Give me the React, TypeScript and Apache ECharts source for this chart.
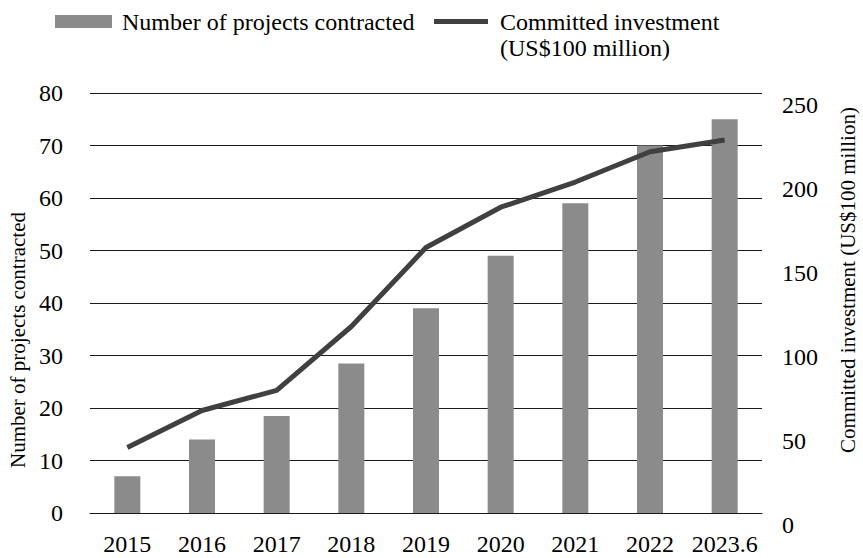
import React, { useEffect, useRef } from "react";
import * as echarts from "echarts";

const categories = ["2015", "2016", "2017", "2018", "2019", "2020", "2021", "2022", "2023.6"];
const projectsContracted = [7, 14, 18.5, 28.5, 39, 49, 59, 70, 75];
const committedInvestment = [39, 61, 73, 111, 158, 182, 197, 215, 222];
const leftTicks = { min: 0, max: 80, interval: 10 };
const rightTicks = { min: 0, max: 250, interval: 50 };

const barName = "Number of projects contracted";
const lineName = "Committed investment (US$100 million)";
const lineLegend = "Committed investment\n(US$100 million)";

const FONT = "'Liberation Serif', 'Times New Roman', serif";
const BAR_COLOR = "#8b8b8b";
const LINE_COLOR = "#404040";

export default function App() {
  const ref = useRef<HTMLDivElement>(null);
  useEffect(() => {
    if (!ref.current) return;
    const chart = echarts.init(ref.current, undefined, { renderer: "svg" });
    chart.setOption({
      animation: false,
      backgroundColor: "#ffffff",
      textStyle: { fontFamily: FONT },
      grid: { left: 90, right: 101, top: 93, bottom: 45, containLabel: false, outerBoundsMode: "none" },
      xAxis: {
        type: "category",
        data: categories,
        axisTick: { show: false },
        axisLine: { show: true, lineStyle: { color: "#1a1a1a", width: 1 } },
        axisLabel: { color: "#000", fontSize: 24, fontFamily: FONT, margin: 19, interval: 0 },
      },
      yAxis: [
        {
          type: "value",
          min: leftTicks.min,
          max: leftTicks.max,
          interval: leftTicks.interval,
          axisLine: { show: false },
          axisTick: { show: false },
          splitLine: { show: true, lineStyle: { color: "#1a1a1a", width: 1 } },
          axisLabel: { color: "#000", fontSize: 24, fontFamily: FONT, margin: 27 },
        },
        {
          type: "value",
          min: rightTicks.min,
          max: rightTicks.max,
          interval: rightTicks.interval,
          axisLine: { show: false },
          axisTick: { show: false },
          splitLine: { show: false },
          axisLabel: {
            color: "#000",
            fontSize: 24,
            fontFamily: FONT,
            margin: 20,
            verticalAlign: "top",
            lineHeight: 24,
          },
        },
      ],
      series: [
        {
          name: barName,
          type: "bar",
          data: projectsContracted,
          yAxisIndex: 0,
          barWidth: 26,
          itemStyle: { color: BAR_COLOR },
        },
        {
          name: lineName,
          type: "line",
          data: committedInvestment,
          yAxisIndex: 1,
          symbol: "none",
          lineStyle: { color: LINE_COLOR, width: 5 },
          itemStyle: { color: LINE_COLOR },
          z: 3,
        },
      ],
      graphic: [
        { type: "rect", shape: { x: 55, y: 15, width: 57, height: 13 }, style: { fill: BAR_COLOR } },
        {
          type: "text",
          x: 122,
          y: 22,
          style: { text: barName, font: "24px 'Liberation Serif'", fill: "#000", align: "left", verticalAlign: "middle" },
        },
        {
          type: "line",
          shape: { x1: 434, y1: 21.5, x2: 488, y2: 21.5 },
          style: { stroke: LINE_COLOR, lineWidth: 5 },
        },
        {
          type: "text",
          x: 500,
          y: 9,
          style: {
            text: lineLegend,
            font: "24px 'Liberation Serif'",
            lineHeight: 26,
            fill: "#000",
            align: "left",
            verticalAlign: "top",
          },
        },
        {
          type: "text",
          x: 18,
          y: 340,
          rotation: Math.PI / 2,
          style: { text: barName, font: "21px 'Liberation Serif'", fill: "#000", align: "center", verticalAlign: "middle" },
        },
        {
          type: "text",
          x: 848,
          y: 280,
          rotation: Math.PI / 2,
          style: { text: lineName, font: "21px 'Liberation Serif'", fill: "#000", align: "center", verticalAlign: "middle" },
        },
      ],
    });
    return () => chart.dispose();
  }, []);
  return (
    <div
      ref={ref}
      style={{ position: "fixed", left: 0, top: 0, width: 863, height: 558, background: "#fff" }}
    />
  );
}
